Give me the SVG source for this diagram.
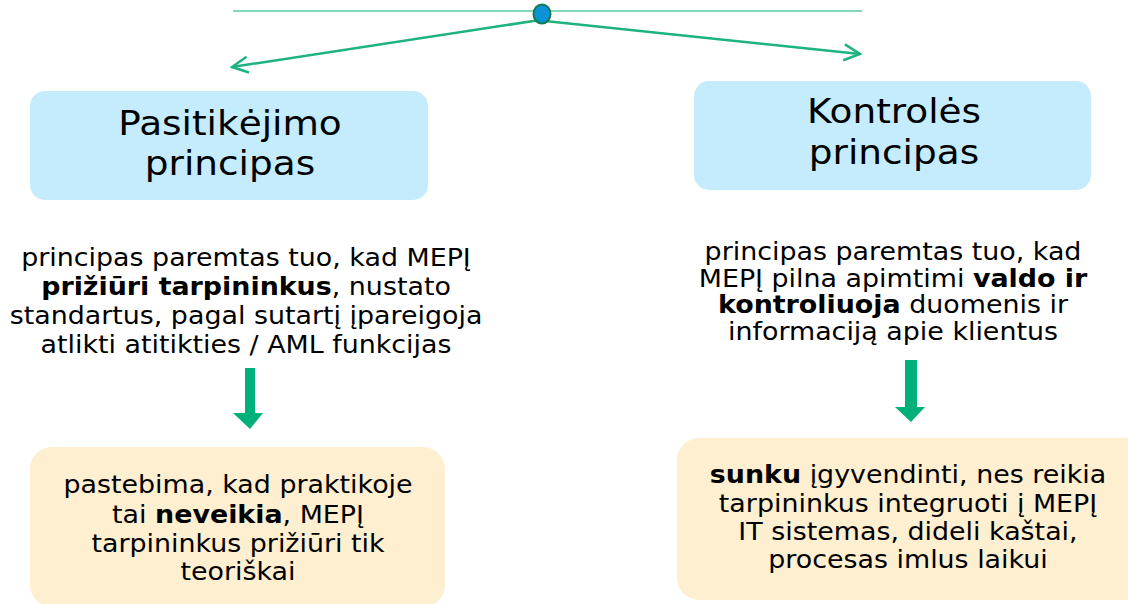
<svg xmlns="http://www.w3.org/2000/svg" width="1128" height="604" viewBox="0 0 1128 604">
<defs>
<style>
.t{font-family:"DejaVu Sans",Verdana,sans-serif;fill:#000;text-anchor:middle}
.h{font-size:34px}
.b{font-size:24px}
.blue{fill:#c5ecfd}
.cream{fill:#fdefd0}
.ln{stroke:#1db37e;stroke-width:2.5;fill:none}
.blk{fill:#00b07a}
</style>
<marker id="oa" viewBox="0 0 20 20" refX="18" refY="10" markerWidth="20" markerHeight="20" markerUnits="userSpaceOnUse" orient="auto">
<path d="M2,2 L18,10 L2,18" fill="none" stroke="#1db37e" stroke-width="2.5"/>
</marker>
</defs>
<rect width="1128" height="604" fill="#fff"/>
<g id="connectors">
<line x1="233" y1="11" x2="862" y2="11" stroke="#5ccaa2" stroke-width="1.5"/>
<line class="ln" x1="540" y1="20" x2="232" y2="67" marker-end="url(#oa)"/>
<line class="ln" x1="545" y1="21" x2="860" y2="54" marker-end="url(#oa)"/>
<path class="blk" d="M245,368 H255 V413 H263 L250,429 L233,413 H245 Z"/>
<path class="blk" d="M905,360 H917 V407 H925 L911,422 L895,407 H905 Z"/>
</g>
<g id="root">
<ellipse cx="542" cy="14" rx="8.5" ry="9.5" fill="#0a93d6" stroke="#177a55" stroke-width="2"/>
</g>
<g id="trust">
<rect class="blue" x="30" y="91" width="398" height="109" rx="15"/>
<g transform="translate(230 0) scale(1.1 1)">
<text class="t h" x="0" y="135">Pasitikėjimo</text>
<text class="t h" x="0" y="175">principas</text>
</g>
</g>
<g id="control">
<rect class="blue" x="694" y="81" width="397" height="109" rx="15"/>
<g transform="translate(894 0) scale(1.1 1)">
<text class="t h" x="0" y="123">Kontrolės</text>
<text class="t h" x="0" y="164">principas</text>
</g>
</g>
<g id="trust-desc" transform="translate(246 0) scale(1.12 1)">
<text class="t b" x="0" y="266">principas paremtas tuo, kad MEPĮ</text>
<text class="t b" x="0" y="295"><tspan font-weight="bold">prižiūri tarpininkus</tspan>, nustato</text>
<text class="t b" x="0" y="324">standartus, pagal sutartį įpareigoja</text>
<text class="t b" x="0" y="353">atlikti atitikties / AML funkcijas</text>
</g>
<g id="control-desc" transform="translate(893 0) scale(1.12 1)">
<text class="t b" x="0" y="260">principas paremtas tuo, kad</text>
<text class="t b" x="0" y="287">MEPĮ pilna apimtimi <tspan font-weight="bold">valdo ir</tspan></text>
<text class="t b" x="0" y="313"><tspan font-weight="bold">kontroliuoja</tspan> duomenis ir</text>
<text class="t b" x="0" y="340">informaciją apie klientus</text>
</g>
<g id="trust-result">
<rect class="cream" x="30" y="447" width="415" height="160" rx="22"/>
<g transform="translate(238 0) scale(1.12 1)">
<text class="t b" x="0" y="493">pastebima, kad praktikoje</text>
<text class="t b" x="0" y="523">tai <tspan font-weight="bold">neveikia</tspan>, MEPĮ</text>
<text class="t b" x="0" y="552">tarpininkus prižiūri tik</text>
<text class="t b" x="0" y="580">teoriškai</text>
</g>
</g>
<g id="control-result">
<rect class="cream" x="677" y="438" width="470" height="162" rx="22"/>
<g transform="translate(908 0) scale(1.12 1)">
<text class="t b" x="0" y="483"><tspan font-weight="bold">sunku</tspan> įgyvendinti, nes reikia</text>
<text class="t b" x="0" y="512">tarpininkus integruoti į MEPĮ</text>
<text class="t b" x="0" y="540">IT sistemas, dideli kaštai,</text>
<text class="t b" x="0" y="568">procesas imlus laikui</text>
</g>
</g>
</svg>
